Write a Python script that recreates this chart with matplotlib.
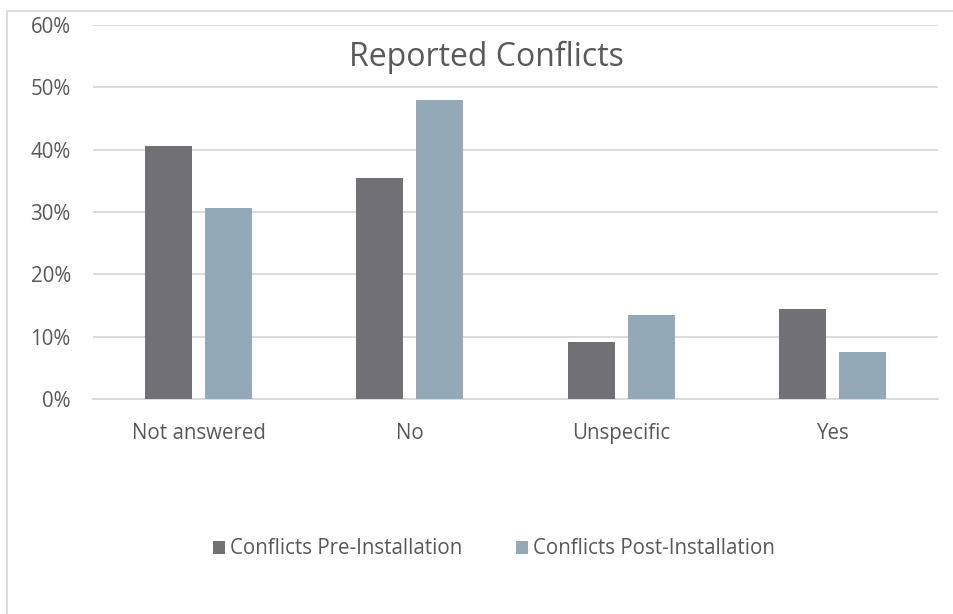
import matplotlib.pyplot as plt
from matplotlib.patches import Rectangle
from matplotlib.ticker import PercentFormatter
import numpy as np

plt.rcParams['font.family'] = ['Open Sans', 'DejaVu Sans']

categories = ['Not answered', 'No', 'Unspecific', 'Yes']
pre_install = [40.6, 35.4, 9.1, 14.4]
post_install = [30.6, 48.0, 13.4, 7.6]

PRE_COLOR = '#717075'
POST_COLOR = '#94a9b8'
GRID_COLOR = '#d9d9d9'
TEXT_COLOR = '#595959'

fig = plt.figure(figsize=(9.54, 6.14), dpi=100)
ax = fig.add_axes([93 / 954, 1 - 399 / 614, 845 / 954, 374 / 614])

x = np.arange(len(categories))
width = 0.222
offset = 0.142
ax.bar(x - offset, pre_install, width, color=PRE_COLOR, label='Conflicts Pre-Installation', zorder=3)
ax.bar(x + offset, post_install, width, color=POST_COLOR, label='Conflicts Post-Installation', zorder=3)

ax.set_xlim(-0.5, len(categories) - 0.5)
ax.set_ylim(0, 60)
ax.set_yticks(np.arange(0, 61, 10))
ax.yaxis.set_major_formatter(PercentFormatter(decimals=0))
ax.set_xticks(x)
ax.set_xticklabels(categories)

ax.grid(axis='y', color=GRID_COLOR, linewidth=1.3, zorder=0)
for side in ['left', 'right', 'top']:
    ax.spines[side].set_visible(False)
ax.spines['bottom'].set_color(GRID_COLOR)
ax.spines['bottom'].set_linewidth(1.3)
ax.tick_params(axis='y', length=0, pad=16, labelsize=14.8, labelcolor=TEXT_COLOR)
ax.tick_params(axis='x', length=0, pad=17.5, labelsize=14.8, labelcolor=TEXT_COLOR)

fig.text(486 / 954, 1 - 57 / 614, 'Reported Conflicts', ha='center', va='center',
         fontsize=23, color=TEXT_COLOR)

fig.legend(loc='center', bbox_to_anchor=(494 / 954, 1 - 549 / 614), ncol=2,
           frameon=False, fontsize=14.8, labelcolor=TEXT_COLOR,
           handlelength=0.6, handleheight=0.6, handletextpad=0.25, columnspacing=2.6)

# light outer frame around the chart
fig.patches.append(Rectangle((7 / 954, -0.1), 1.2, 1.1 - 11 / 614, transform=fig.transFigure,
                             fill=False, edgecolor=GRID_COLOR, linewidth=1.3))

fig.savefig('out.png', dpi=100)
